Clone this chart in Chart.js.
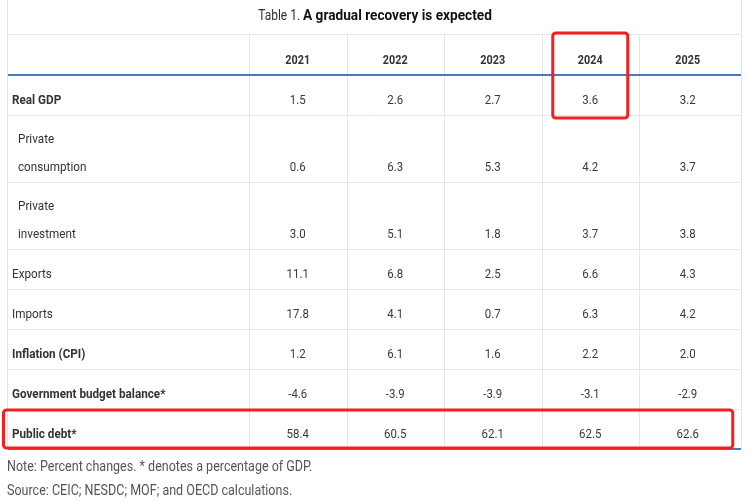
<!DOCTYPE html>
<html>
<head>
<meta charset="utf-8">
<script src="https://cdn.jsdelivr.net/npm/chart.js@4.4.1/dist/chart.umd.min.js"></script>
<style>
  html, body { margin: 0; padding: 0; background: #fff; }
  #tabela { display: block; }
</style>
</head>
<body>
<canvas id="tabela" width="750" height="502"></canvas>
<script>
const titulo = ['Table 1. ', 'A gradual recovery is expected']
const anos = ['2021', '2022', '2023', '2024', '2025']
const linhas = ['Real GDP', ['Private', 'consumption'], ['Private', 'investment'], 'Exports', 'Imports', 'Inflation (CPI)', 'Government budget balance*', 'Public debt*']
const linhasNegrito = ['Real GDP', 'Inflation (CPI)', 'Government budget balance*', 'Public debt*']

const valores2021 = [1.5, 0.6, 3.0, 11.1, 17.8, 1.2, -4.6, 58.4]
const valores2022 = [2.6, 6.3, 5.1, 6.8, 4.1, 6.1, -3.9, 60.5]
const valores2023 = [2.7, 5.3, 1.8, 2.5, 0.7, 1.6, -3.9, 62.1]
const valores2024 = [3.6, 4.2, 3.7, 6.6, 6.3, 2.2, -3.1, 62.5]
const valores2025 = [3.2, 3.7, 3.8, 4.3, 4.2, 2.0, -2.9, 62.6]

const notas = ['Note: Percent changes. * denotes a percentage of GDP.', 'Source: CEIC; NESDC; MOF; and OECD calculations.']

const anoDestaque = '2024'
const linhaDestaque = 'Public debt*'

// altura de cada linha em "unidades de linha" (cabecalho = 1.025)
const alturaCabecalho = 1.025
const alturaLinha = l => Array.isArray(l) ? 1.675 : 1
let fimLinhas = []
let acumulado = alturaCabecalho
linhas.forEach(l => {
  acumulado += alturaLinha(l)
  fimLinhas.push(acumulado)
})

const valoresPorAno = [valores2021, valores2022, valores2023, valores2024, valores2025]

const corTexto = '#333'
const corGrade = '#e6e6e6'
const corAzul = '#4a79b5'
const corDestaque = 'rgb(246,30,30)'

function escreve (ctx, s, x, y, fonte, alinhamento, cor, aperto) {
  ctx.save()
  ctx.font = fonte
  ctx.fillStyle = cor
  ctx.textBaseline = 'middle'
  ctx.textAlign = alinhamento
  ctx.translate(x, y)
  ctx.scale(aperto, 1)
  ctx.fillText(s, 0, 0)
  ctx.restore()
}

function linha (ctx, x1, y1, x2, y2, cor, largura) {
  ctx.save()
  ctx.strokeStyle = cor
  ctx.lineWidth = largura
  ctx.beginPath()
  ctx.moveTo(x1, y1)
  ctx.lineTo(x2, y2)
  ctx.stroke()
  ctx.restore()
}

function caixa (ctx, x1, y1, x2, y2) {
  ctx.save()
  ctx.strokeStyle = corDestaque
  ctx.lineWidth = 3
  ctx.beginPath()
  ctx.roundRect(x1, y1, x2 - x1, y2 - y1, 3)
  ctx.stroke()
  ctx.restore()
}

const desenhaTabela = {
  id: 'desenhaTabela',
  afterDatasetsDraw (chart) {
    const ctx = chart.ctx
    const x = chart.scales.x
    const y = chart.scales.y
    const area = chart.chartArea
    const esq = y.left
    const dir = chart.width - 9
    const passo = x.getPixelForValue(1) - x.getPixelForValue(0)
    const topo = area.top
    const base = y.getPixelForValue(acumulado)
    const fimCab = y.getPixelForValue(alturaCabecalho)

    // titulo
    ctx.save()
    ctx.font = '15px Roboto'
    const l1 = ctx.measureText(titulo[0]).width * 0.8
    ctx.font = 'bold 15px Roboto'
    const l2 = ctx.measureText(titulo[1]).width * 0.91
    ctx.restore()
    const inicio = chart.width / 2 - (l1 + l2) / 2
    escreve(ctx, titulo[0], inicio, 16.5, '15px Roboto', 'left', corTexto, 0.8)
    escreve(ctx, titulo[1], inicio + l1, 16.5, 'bold 15px Roboto', 'left', '#111', 0.91)

    // grade
    linha(ctx, esq - 0.5, 0, esq - 0.5, base, corGrade, 1)
    linha(ctx, dir + 0.5, 0, dir + 0.5, base, corGrade, 1)
    linha(ctx, esq, topo + 0.5, dir, topo + 0.5, corGrade, 1)
    anos.forEach((ano, i) => {
      const xs = Math.round(x.getPixelForValue(i) - passo / 2) + 0.5
      linha(ctx, xs, topo, xs, base, corGrade, 1)
    })
    fimLinhas.slice(0, -1).forEach(f => {
      const ys = Math.round(y.getPixelForValue(f)) + 0.5
      linha(ctx, esq, ys, dir, ys, corGrade, 1)
    })
    linha(ctx, esq, Math.round(fimCab), dir, Math.round(fimCab), corAzul, 2)
    linha(ctx, esq, Math.round(base), dir, Math.round(base), corAzul, 2)

    // cabecalho
    anos.forEach((ano, i) => {
      escreve(ctx, ano, x.getPixelForValue(i), fimCab - 14.5, 'bold 13.5px Roboto', 'center', corTexto, 0.8)
    })

    // rotulos das linhas
    linhas.forEach((l, i) => {
      const fundo = y.getPixelForValue(fimLinhas[i])
      const partes = Array.isArray(l) ? l : [l]
      const recuo = Array.isArray(l) ? 10 : 4
      const fonte = linhasNegrito.includes(l) ? 'bold 13px Roboto' : '13px Roboto'
      partes.forEach((p, k) => {
        escreve(ctx, p, esq + recuo, fundo - 14 - (partes.length - 1 - k) * 28, fonte, 'left', corTexto, 0.9)
      })
    })

    // valores
    chart.data.datasets.forEach((ds, d) => {
      chart.getDatasetMeta(d).data.forEach((pt, i) => {
        escreve(ctx, ds.data[i].valor.toFixed(1), pt.x, pt.y - 14, '13px Roboto', 'center', '#3a3a3a', 0.88)
      })
    })

    // destaques
    const xa = x.getPixelForValue(anos.indexOf(anoDestaque))
    caixa(ctx, xa - 37.5, topo - 1, xa + 37.5, y.getPixelForValue(fimLinhas[0]) + 3)
    const ld = linhas.indexOf(linhaDestaque)
    caixa(ctx, esq - 4.5, y.getPixelForValue(fimLinhas[ld - 1]) + 1, x.getPixelForValue(anos.length - 1) + 45, y.getPixelForValue(fimLinhas[ld]) - 1)

    // notas
    notas.forEach((n, i) => {
      escreve(ctx, n, 7, 467 + i * 24, '15px Roboto', 'left', '#555', 0.835)
    })
  }
}

const graficoTabela = new Chart(document.getElementById('tabela'), {
  type: 'scatter',
  data: {
    datasets: anos.map((ano, d) => ({
      label: ano,
      data: valoresPorAno[d].map((v, i) => ({ x: ano, y: fimLinhas[i], valor: v })),
      pointRadius: 0,
      pointHoverRadius: 0
    }))
  },
  options: {
    responsive: false,
    animation: false,
    devicePixelRatio: 1,
    events: [],
    layout: { padding: { top: 34, left: 8, right: 13.5, bottom: 53 } },
    plugins: { legend: { display: false }, tooltip: { enabled: false } },
    scales: {
      x: { type: 'category', labels: anos, offset: true, display: false },
      y: {
        type: 'linear', reverse: true, min: 0, max: acumulado,
        ticks: { display: false }, grid: { display: false }, border: { display: false },
        afterFit: scale => { scale.width = 241 }
      }
    }
  },
  plugins: [desenhaTabela]
})
</script>
</body>
</html>
